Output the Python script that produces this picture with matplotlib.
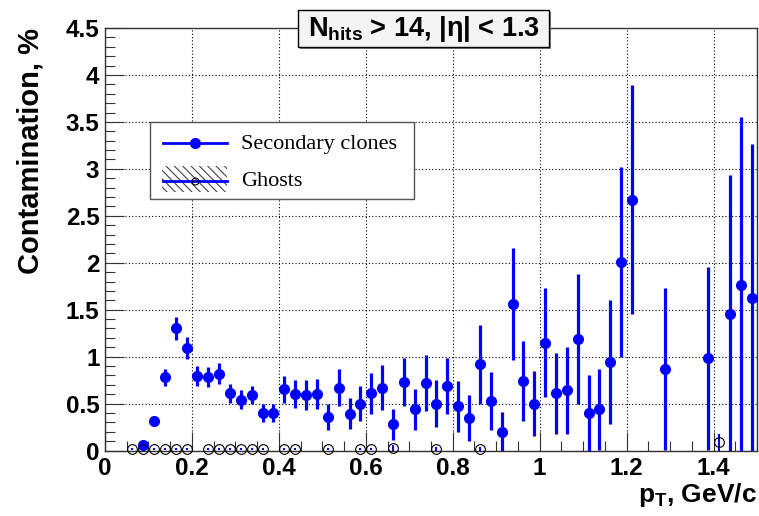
import matplotlib
matplotlib.use("Agg")
import matplotlib.pyplot as plt
from matplotlib.ticker import MultipleLocator, FuncFormatter
from matplotlib.patches import Rectangle

plt.rcParams['font.family'] = ['Liberation Sans', 'DejaVu Sans']
plt.rcParams['mathtext.fontset'] = 'custom'
plt.rcParams['mathtext.rm'] = 'Liberation Sans'
plt.rcParams['mathtext.bf'] = 'Liberation Sans:bold'
plt.rcParams['mathtext.it'] = 'Liberation Sans:italic'
plt.rcParams['hatch.linewidth'] = 0.8

# secondary clones (bin centres, value %, error %)
clone_pt = [0.0875, 0.1125, 0.1375, 0.1625, 0.1875, 0.2125, 0.2375, 0.2625, 0.2875, 0.3125,
            0.3375, 0.3625, 0.3875, 0.4125, 0.4375, 0.4625, 0.4875, 0.5125, 0.5375, 0.5625,
            0.5875, 0.6125, 0.6375, 0.6625, 0.6875, 0.7125, 0.7375, 0.7625, 0.7875, 0.8125,
            0.8375, 0.8625, 0.8875, 0.9125, 0.9375, 0.9625, 0.9875, 1.0125, 1.0375, 1.0625,
            1.0875, 1.1125, 1.1375, 1.1625, 1.1875, 1.2125, 1.2875, 1.3875, 1.4375, 1.4625,
            1.4875]
clone_val = [0.06, 0.31, 0.78, 1.30, 1.09, 0.79, 0.78, 0.82, 0.61, 0.54,
             0.59, 0.40, 0.40, 0.65, 0.60, 0.59, 0.60, 0.36, 0.67, 0.39,
             0.50, 0.61, 0.67, 0.28, 0.73, 0.44, 0.72, 0.50, 0.69, 0.47,
             0.35, 0.92, 0.53, 0.20, 1.56, 0.74, 0.50, 1.15, 0.61, 0.64,
             1.19, 0.40, 0.44, 0.94, 2.01, 2.67, 0.87, 0.98, 1.45, 1.76,
             1.62]
clone_err = [0.03, 0.05, 0.09, 0.125, 0.12, 0.105, 0.105, 0.11, 0.10, 0.10,
             0.10, 0.10, 0.10, 0.145, 0.15, 0.16, 0.16, 0.14, 0.20, 0.165,
             0.19, 0.22, 0.24, 0.165, 0.26, 0.22, 0.30, 0.25, 0.30, 0.27,
             0.245, 0.42, 0.31, 0.21, 0.60, 0.43, 0.35, 0.58, 0.43, 0.46,
             0.69, 0.40, 0.43, 0.66, 1.01, 1.22, 0.86, 0.97, 1.48, 1.79,
             1.64]

# ghosts
ghost_pt = [0.0625, 0.0875, 0.1125, 0.1375, 0.1625, 0.1875, 0.2375, 0.2625, 0.2875, 0.3125,
            0.3375, 0.3625, 0.4125, 0.4375, 0.5125, 0.5875, 0.6125, 0.6625, 0.7625, 0.8625,
            1.4125]
ghost_val = [0.02, 0.02, 0.02, 0.02, 0.02, 0.02, 0.02, 0.02, 0.02, 0.02,
             0.02, 0.02, 0.02, 0.02, 0.02, 0.02, 0.02, 0.03, 0.02, 0.02,
             0.09]
ghost_err = [0.01, 0.01, 0.01, 0.01, 0.01, 0.01, 0.01, 0.01, 0.01, 0.01,
             0.01, 0.01, 0.01, 0.01, 0.01, 0.01, 0.01, 0.03, 0.02, 0.02,
             0.09]

W, H = 759, 516
fig = plt.figure(figsize=(W / 100, H / 100), dpi=100)
ax = fig.add_axes([105 / W, 1 - 450.5 / H, 652 / W, 422.5 / H])

ax.errorbar(clone_pt, clone_val, yerr=clone_err, fmt='o', color='#0000ff', ms=7,
            elinewidth=2.3, capsize=0, zorder=3)
gh = ax.errorbar(ghost_pt, ghost_val, yerr=ghost_err, fmt='o', mfc='none', mec='black',
                 ms=7, mew=0.8, ecolor='#0000ff', elinewidth=1.5, capsize=0, zorder=4)
gh.lines[0].set_clip_on(False)

ax.set_xlim(0, 1.5)
ax.set_ylim(0, 4.5)
ax.xaxis.set_major_locator(MultipleLocator(0.2))
ax.xaxis.set_minor_locator(MultipleLocator(0.05))
ax.yaxis.set_major_locator(MultipleLocator(0.5))
ax.yaxis.set_minor_locator(MultipleLocator(0.1))
fmt = FuncFormatter(lambda v, p: '%g' % round(v, 2))
ax.xaxis.set_major_formatter(fmt)
ax.yaxis.set_major_formatter(fmt)
ax.tick_params(which='both', direction='in', top=False, right=False, width=0.8, color='#333333')
ax.tick_params(which='major', length=14)
ax.tick_params(which='minor', length=7)
ax.tick_params(axis='y', which='major', pad=4)
ax.tick_params(axis='x', which='major', pad=5)
for lab in ax.get_xticklabels() + ax.get_yticklabels():
    lab.set_fontsize(17.5)
    lab.set_fontweight('bold')
ax.grid(True, which='major', color='black', linestyle=(0, (1, 2)), linewidth=0.8)
for s in ax.spines.values():
    s.set_linewidth(1.0)
    s.set_color('#333333')

ax.set_ylabel('Contamination, %', fontsize=21, fontweight='bold', ha='right', va='center')
ax.yaxis.set_label_coords(-0.115, 1.0)
ax.set_xlabel(r'p$_{\mathbf{T}}$, GeV/c', fontsize=19, fontweight='bold', ha='right', va='baseline')
ax.xaxis.set_label_coords(1.0, -0.1212)

# overlay in pixel coordinates for title box and legend
ov = fig.add_axes([0, 0, 1, 1], zorder=10)
ov.set_xlim(0, W)
ov.set_ylim(H, 0)
ov.axis('off')

# title box
ov.add_patch(Rectangle((300, 12), 251, 37, facecolor='#808080', edgecolor='none'))
ov.add_patch(Rectangle((298, 10), 251, 37, facecolor='#f4f4f4', edgecolor='black', lw=1))
ov.text(423.5, 29, r'$\mathbf{N}_{\mathbf{hits}}$ > 14, |η| < 1.3', fontsize=19.5,
        fontweight='bold', ha='center', va='center')

# legend
ov.add_patch(Rectangle((150, 122), 264, 77, facecolor='white', edgecolor='#555555', lw=1))
ov.plot([163, 227], [143, 143], color='#0000ff', lw=2)
ov.plot([195], [143], 'o', color='#0000ff', ms=7)
ov.text(241, 144, 'Secondary clones', fontsize=16, family='Liberation Serif', va='center')
ov.add_patch(Rectangle((162, 166), 65, 26, facecolor='none', edgecolor='#444444', lw=0,
                       hatch='\\\\\\\\'))
ov.plot([163, 227], [181, 181], color='#0000ff', lw=2)
ov.plot([195], [181], 'o', mfc='none', mec='black', ms=5, mew=0.8)
ov.text(241, 182, 'Ghosts', fontsize=16, family='Liberation Serif', va='center')

fig.savefig('out.png', dpi=100)
